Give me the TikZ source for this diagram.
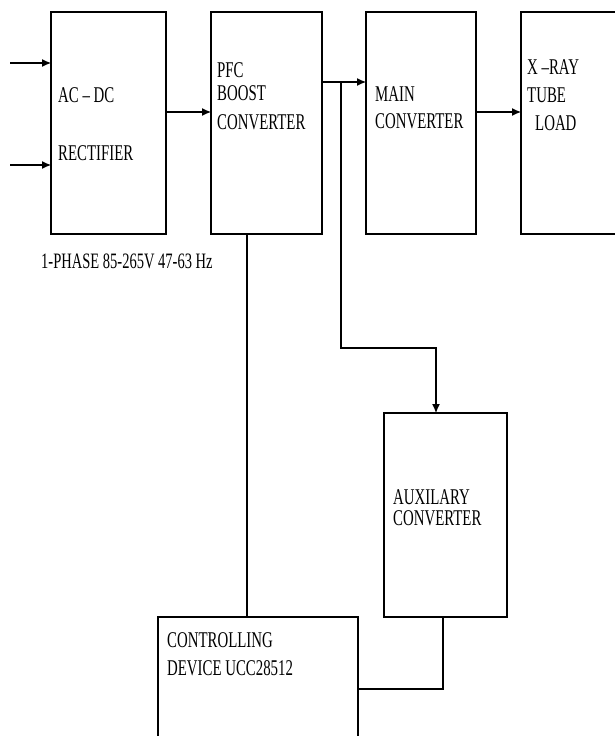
\documentclass[tikz,border=0pt]{standalone}
\usepackage{fontspec}
\setmainfont{Liberation Serif}[FakeStretch=0.66]
\usetikzlibrary{positioning,arrows.meta,calc}

\begin{document}
\begin{tikzpicture}[
  x=1pt,y=-1pt,
  font=\fontsize{22.5}{27}\selectfont,
  >={Latex[length=9pt,width=8pt]},
  blk/.style={draw,line width=1.1pt,outer sep=0pt,inner sep=0pt},
  txt/.style={anchor=north west,inner sep=0pt,align=left},
  wire/.style={line width=1.1pt},
]
\useasboundingbox (0,0) rectangle (615,736);
\clip (0,0) rectangle (615,736);

% ===== BLOCKS =====
\node[blk,minimum width=115pt,minimum height=222pt] (rect) at (108.5,123) {};
\node[blk,minimum width=111pt,minimum height=222pt] (pfc) at (266.5,123) {};
\node[blk,minimum width=110pt,minimum height=222pt] (mainconv) at (421,123) {};
\node[blk,minimum width=119pt,minimum height=222pt] (xray) at (580.5,123) {};
\node[blk,minimum width=123pt,minimum height=204pt] (aux) at (445.5,515) {};
\node[blk,minimum width=200pt,minimum height=153pt] (ctrl) at (258,693.5) {};

% ===== TEXTS =====
\node[txt] (rect-txt) at (58,87.5) {AC – DC\\[31pt]RECTIFIER};
\node[txt] (pfc-txt) at (217,62.5) {PFC\\[-4pt]BOOST\\[2pt]CONVERTER};
\node[txt] (main-txt) at (375,86) {MAIN\\CONVERTER};
\node[txt] (xray-txt) at (527,59.5) {X –RAY\\[1pt]TUBE\\[1pt]\hspace*{8pt}LOAD};
\node[txt] (aux-txt) at (393,489.5) {AUXILARY\\[-6pt]CONVERTER};
\node[txt] (ctrl-txt) at (167,632) {CONTROLLING\\[1.5pt]DEVICE UCC28512};
\node[txt,font=\fontsize{22}{26}\selectfont] (phase) at (41,254) {1-PHASE 85-265V 47-63 Hz};

% ===== CONNECTORS =====
\coordinate (in1) at (10,63);
\coordinate (in2) at (10,165);
\draw[wire,->] (in1) -- (in1 -| rect.west);
\draw[wire,->] (in2) -- (in2 -| rect.west);
\draw[wire,->] ([yshift=11pt]rect.east) -- ([yshift=11pt]pfc.west);
\draw[wire,->] ([yshift=41pt]pfc.east) -- ([yshift=41pt]mainconv.west);
\draw[wire,->] ([yshift=11pt]mainconv.east) -- ([yshift=11pt]xray.west);

% branch to the auxilary converter
\coordinate (tap) at (341,82);
\coordinate (bend) at (436,348);
\draw[wire,->] (tap) |- (bend) -- (bend |- aux.north);

% lines to the controller
\draw[wire] ([xshift=-19.5pt]pfc.south) -- ([xshift=-19.5pt]pfc.south |- ctrl.north);
\draw[wire] ([xshift=-2.5pt]aux.south) |- ([yshift=4.5pt]ctrl.east);

\end{tikzpicture}
\end{document}
